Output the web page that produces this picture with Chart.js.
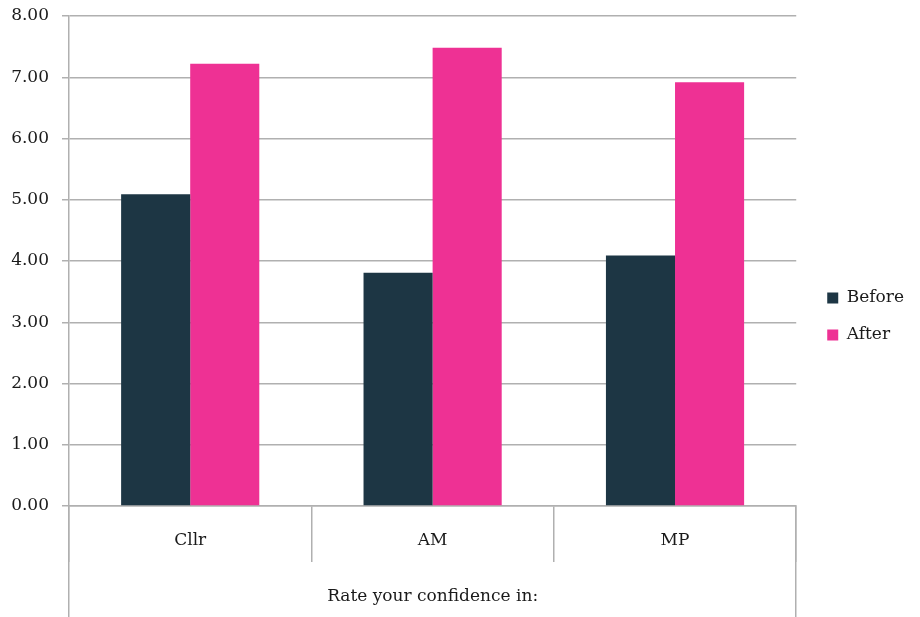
<!DOCTYPE html>
<html>
<head>
<meta charset="utf-8">
<script src="https://cdn.jsdelivr.net/npm/chart.js@4/dist/chart.umd.min.js"></script>
<style>
    html, body { margin: 0; padding: 0; background: #fff; }
    .canvas { width: 920px; height: 617px; }
</style>
</head>
<body>
<div class="canvas"><canvas id="confidenceChart"></canvas></div>
<script>
const categories = ['Cllr', 'AM', 'MP'];
const beforeValues = [5.09, 3.81, 4.09];
const afterValues = [7.22, 7.48, 6.92];
const axisTitle = 'Rate your confidence in:';

const gridColor = '#b0b0b0';

Chart.defaults.font.family = '"DejaVu Serif", serif';
Chart.defaults.font.size = 17;
Chart.defaults.color = '#1a1a1a';

// the outer edges of the category axis run down to the bottom of the page
const edgeLines = {
    id: 'edgeLines',
    afterLayout(chart) {
        // push the legend a bit away from the plot
        chart.legend.left += 11;
        chart.legend.right += 11;
    },
    afterDraw(chart) {
        const x = chart.scales.x;
        const ctx = chart.ctx;
        ctx.save();
        ctx.strokeStyle = gridColor;
        ctx.lineWidth = 1.5;
        ctx.beginPath();
        [x.left, x.right].forEach(px => {
            const p = Math.round(px - 0.75) + 0.75;
            ctx.moveTo(p, x.top);
            ctx.lineTo(p, chart.height);
        });
        ctx.stroke();
        ctx.restore();
    },
};

const confidenceChart = new Chart(document.getElementById('confidenceChart'), {
    type: 'bar',
    data: {
        labels: categories,
        datasets: [
            {
                label: 'Before',
                data: beforeValues,
                backgroundColor: '#1d3644',
                categoryPercentage: 0.57,
                barPercentage: 1,
            },
            {
                label: 'After',
                data: afterValues,
                backgroundColor: '#ee3194',
                categoryPercentage: 0.57,
                barPercentage: 1,
            },
        ],
    },
    options: {
        responsive: true,
        maintainAspectRatio: false,
        animation: false,
        layout: {
            padding: { left: 11, top: 16, right: 17, bottom: 0 },
        },
        plugins: {
            tooltip: { enabled: false },
            legend: {
                position: 'right',
                align: 'center',
                labels: {
                    boxWidth: 11,
                    boxHeight: 11,
                    padding: 20,
                    color: '#1a1a1a',
                },
            },
        },
        scales: {
            x: {
                grid: {
                    offset: true,
                    drawOnChartArea: false,
                    tickLength: 56,
                    color: gridColor,
                    lineWidth: 1.5,
                },
                border: { color: gridColor, width: 1.5 },
                ticks: { padding: -32, color: '#1a1a1a' },
                title: {
                    display: true,
                    text: axisTitle,
                    color: '#1a1a1a',
                    padding: { top: 0, bottom: 10 },
                },
                afterFit(scale) {
                    scale.height = 111;
                },
            },
            y: {
                min: 0,
                max: 8,
                grid: {
                    color: gridColor,
                    lineWidth: 1.5,
                    tickLength: 7,
                },
                border: { color: gridColor, width: 1.5 },
                ticks: {
                    stepSize: 1,
                    padding: 13,
                    color: '#1a1a1a',
                    callback: v => v.toFixed(2),
                },
                afterFit(scale) {
                    scale.width = 58;
                    scale.paddingTop = 0;
                    scale.paddingBottom = 0;
                },
            },
        },
    },
    plugins: [edgeLines],
});
</script>
</body>
</html>
